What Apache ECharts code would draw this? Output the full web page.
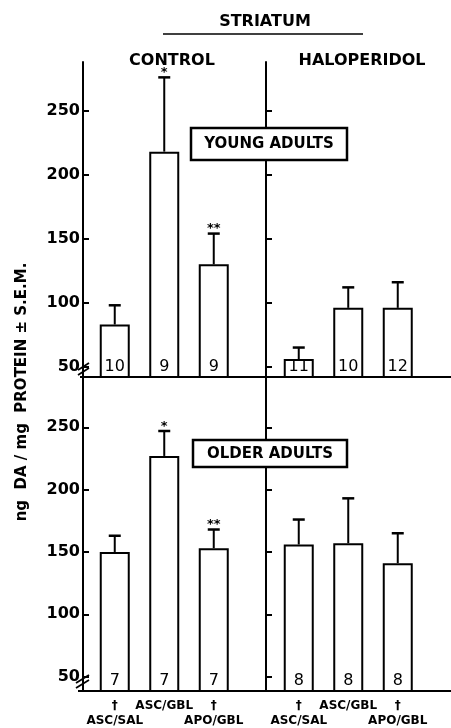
<!DOCTYPE html>
<html>
<head>
<meta charset="utf-8">
<script src="https://cdn.jsdelivr.net/npm/echarts@6/dist/echarts.min.js"></script>
<style>
  html, body { margin: 0; padding: 0; background: #fff; }
  #chart { width: 451px; height: 728px; }
</style>
</head>
<body>
<div id="chart"></div>
<script>
// groups (x categories)
const groups = ['ASC/SAL', 'ASC/GBL', 'APO/GBL'];
const yTicks = [50, 100, 150, 200, 250];

// young adults
const youngControl = [83, 218, 130];
const youngControlSem = [15, 58, 24];
const youngControlN = [10, 9, 9];
const youngHalo = [56, 96, 96];
const youngHaloSem = [9, 16, 20];
const youngHaloN = [11, 10, 12];

// older adults
const olderControl = [150, 227, 153];
const olderControlSem = [13, 20, 15];
const olderControlN = [7, 7, 7];
const olderHalo = [156, 157, 141];
const olderHaloSem = [20, 36, 24];
const olderHaloN = [8, 8, 8];

// significance marks
const controlMarks = ['', '*', '**'];
const haloMarks = ['', '', ''];

const FONT = 'DejaVu Sans';
const cats = groups.concat(['']); // spare slot keeps bar spacing

const chart = echarts.init(document.getElementById('chart'));

// grids: 0 young/control, 1 young/halo, 2 older/control, 3 older/halo
const grids = [
  { left: 90, width: 198, top: 62, height: 315 },
  { left: 274, width: 198, top: 62, height: 315 },
  { left: 90, width: 198, top: 378, height: 313 },
  { left: 274, width: 198, top: 378, height: 313 }
].map(g => Object.assign(g, { outerBoundsMode: 'none', containLabel: false }));

const xAxes = grids.map((g, i) => ({
  type: 'category',
  gridIndex: i,
  data: cats,
  axisLine: { lineStyle: { color: '#000', width: 2 } },
  axisTick: { show: false },
  axisLabel: {
    show: i >= 2,
    interval: 0,
    margin: 7,
    color: '#000',
    fontFamily: FONT,
    fontWeight: 'bold',
    fontSize: 12,
    lineHeight: 15,
    formatter: (v, idx) => (v === '' ? '' : idx === 1 ? v : '†\n' + v)
  }
}));

const yAxes = grids.map((g, i) => ({
  type: 'value',
  gridIndex: i,
  min: i < 2 ? 42 : 38.5,
  max: i < 2 ? 288 : 289.5,
  offset: i % 2 === 0 ? 7 : 8,
  splitLine: { show: false },
  axisLine: { show: true, lineStyle: { color: '#000', width: 2 } },
  axisTick: { show: true, inside: true, length: 6, customValues: yTicks, lineStyle: { color: '#000', width: 2 } },
  axisLabel: {
    show: i % 2 === 0,
    customValues: yTicks,
    margin: 3,
    color: '#000',
    fontFamily: FONT,
    fontWeight: 'bold',
    fontSize: 16
  }
}));

function barSeries(gi, values, ns) {
  return {
    type: 'bar',
    xAxisIndex: gi,
    yAxisIndex: gi,
    data: values,
    barWidth: 30,
    itemStyle: { color: '#fff', borderColor: '#000', borderWidth: 2 },
    label: {
      show: true,
      position: 'insideBottom',
      distance: 3,
      color: '#000',
      fontFamily: FONT,
      fontSize: 16,
      formatter: p => String(ns[p.dataIndex])
    },
    z: 2
  };
}

function errSeries(gi, values, sems, marks) {
  return {
    type: 'custom',
    xAxisIndex: gi,
    yAxisIndex: gi,
    encode: { x: 0, y: [1, 2] },
    data: values.map((v, i) => [i, v, v + sems[i]]),
    renderItem: (params, api) => {
      const base = api.coord([api.value(0), api.value(1)]);
      const top = api.coord([api.value(0), api.value(2)]);
      const children = [
        { type: 'line', shape: { x1: base[0], y1: base[1], x2: top[0], y2: top[1] }, style: { stroke: '#000', lineWidth: 2 } },
        { type: 'line', shape: { x1: top[0] - 6, y1: top[1], x2: top[0] + 6, y2: top[1] }, style: { stroke: '#000', lineWidth: 2.5 } }
      ];
      const m = marks[params.dataIndex];
      if (m) {
        children.push({
          type: 'text', x: top[0], y: top[1] + 2,
          style: { text: m, fill: '#000', font: 'bold 13px ' + FONT, align: 'center', verticalAlign: 'bottom' }
        });
      }
      return { type: 'group', children };
    },
    z: 3
  };
}

const boldText = size => 'bold ' + size + 'px ' + FONT;

const option = {
  animation: false,
  backgroundColor: '#fff',
  grid: grids,
  xAxis: xAxes,
  yAxis: yAxes,
  series: [
    barSeries(0, youngControl, youngControlN), errSeries(0, youngControl, youngControlSem, controlMarks),
    barSeries(1, youngHalo, youngHaloN), errSeries(1, youngHalo, youngHaloSem, haloMarks),
    barSeries(2, olderControl, olderControlN), errSeries(2, olderControl, olderControlSem, controlMarks),
    barSeries(3, olderHalo, olderHaloN), errSeries(3, olderHalo, olderHaloSem, haloMarks)
  ],
  graphic: [
    { type: 'text', x: 265, y: 22, style: { text: 'STRIATUM', font: boldText(16), fill: '#000', align: 'center', verticalAlign: 'middle' } },
    { type: 'line', shape: { x1: 163, y1: 34, x2: 363, y2: 34 }, style: { stroke: '#000', lineWidth: 1.5 } },
    { type: 'text', x: 172, y: 61, style: { text: 'CONTROL', font: boldText(16), fill: '#000', align: 'center', verticalAlign: 'middle' } },
    { type: 'text', x: 362, y: 61, style: { text: 'HALOPERIDOL', font: boldText(16), fill: '#000', align: 'center', verticalAlign: 'middle' } },
    // panel boxes
    { type: 'rect', z: 100, shape: { x: 191, y: 128, width: 156, height: 32 }, style: { fill: '#fff', stroke: '#000', lineWidth: 2.5 } },
    { type: 'text', z: 101, x: 269, y: 144, style: { text: 'YOUNG ADULTS', font: boldText(15), fill: '#000', align: 'center', verticalAlign: 'middle' } },
    { type: 'rect', z: 100, shape: { x: 193, y: 440, width: 154, height: 27 }, style: { fill: '#fff', stroke: '#000', lineWidth: 2.5 } },
    { type: 'text', z: 101, x: 270, y: 454, style: { text: 'OLDER ADULTS', font: boldText(15), fill: '#000', align: 'center', verticalAlign: 'middle' } },
    // y title
    { type: 'text', x: 22, y: 392, rotation: Math.PI / 2, style: { text: 'ng  DA / mg  PROTEIN ± S.E.M.', font: boldText(15), fill: '#000', align: 'center', verticalAlign: 'middle' } },
    // baseline stubs left of the axis and break marks
    { type: 'line', shape: { x1: 80, y1: 377, x2: 91, y2: 377 }, style: { stroke: '#000', lineWidth: 2 } },
    { type: 'line', shape: { x1: 78, y1: 691, x2: 91, y2: 691 }, style: { stroke: '#000', lineWidth: 2 } },
    { type: 'line', shape: { x1: 78, y1: 370, x2: 89, y2: 363 }, style: { stroke: '#000', lineWidth: 1.8 } },
    { type: 'line', shape: { x1: 78, y1: 375, x2: 89, y2: 368 }, style: { stroke: '#000', lineWidth: 1.8 } },
    { type: 'line', shape: { x1: 76, y1: 683, x2: 89, y2: 675 }, style: { stroke: '#000', lineWidth: 1.8 } },
    { type: 'line', shape: { x1: 76, y1: 688, x2: 89, y2: 680 }, style: { stroke: '#000', lineWidth: 1.8 } }
  ]
};

chart.setOption(option);
</script>
</body>
</html>
